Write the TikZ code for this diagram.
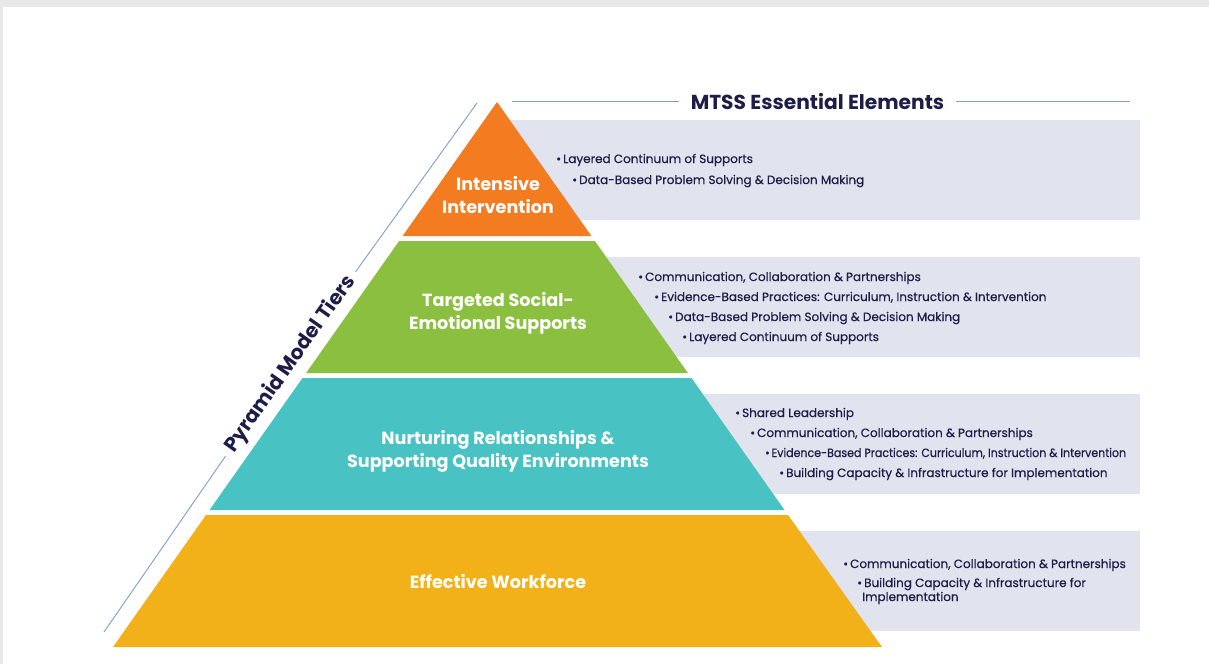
\documentclass[tikz,border=0pt]{standalone}
\usepackage{fontspec}
\setmainfont{Poppins}
\newfontfamily\bulletfont{Poppins}[FakeBold=0.5]
\definecolor{framegray}{HTML}{E8E8E8}
\definecolor{boxfill}{HTML}{E1E3EE}
\definecolor{navy}{HTML}{1E1D48}
\definecolor{lineblue}{HTML}{7F9ECB}
\definecolor{tOrange}{HTML}{F37B20}
\definecolor{tGreen}{HTML}{8BBF3F}
\definecolor{tTeal}{HTML}{48C2C2}
\definecolor{tYellow}{HTML}{F2B119}
\tikzset{
  tierlabel/.style={text=white, font=\bfseries\fontsize{17.6}{23}\selectfont, align=center},
  bulletitem/.style={text=navy, font=\bulletfont\fontsize{12}{14}\selectfont, anchor=base west, inner sep=0pt, align=left},
  guide/.style={draw=lineblue, line width=0.9pt},
  heading/.style={text=navy, font=\bfseries\fontsize{20.2}{24}\selectfont}
}
\begin{document}
\begin{tikzpicture}[x=1pt,y=-1pt]
\useasboundingbox (0,0) rectangle (1209,664);
\fill[framegray] (0,0) rectangle (1209,664);
\fill[white] (3,7) rectangle (1209,664);
% element boxes
\fill[boxfill] (505,120) rectangle (1140,220);
\fill[boxfill] (505,257) rectangle (1140,357);
\fill[boxfill] (505,394) rectangle (1140,494);
\fill[boxfill] (505,531) rectangle (1140,631);
% tiers
\fill[tOrange] (497,102) -- (591.4,236) -- (402.6,236) -- cycle;
\fill[tGreen] (399.1,241) -- (594.9,241) -- (687.9,373) -- (306.1,373) -- cycle;
\fill[tTeal] (302.5,378) -- (691.5,378) -- (784.5,510) -- (209.5,510) -- cycle;
\fill[tYellow] (206,515) -- (788,515) -- (882,647) -- (113,647) -- cycle;
% tier labels
\node[tierlabel] (t1) at (498,195.5) {Intensive\\Intervention};
\node[tierlabel] (t2) at (498,313.5) {Targeted Social-\\Emotional Supports};
\node[tierlabel] (t3) at (498,451.5) {Nurturing Relationships \&\\Supporting Quality Environments};
\node[tierlabel] (t4) at (498,582) {Effective Workforce};
% heading
\node[heading, inner xsep=12pt] (title) at (817.5,101) {MTSS Essential Elements};
\coordinate (hl) at (512,101);
\coordinate (hr) at (1130,101);
\draw[guide] (hl) -- (hl -| title.west);
\draw[guide] (hr) -- (hr -| title.east);
% diagonal
\node[heading, rotate=54.8, inner xsep=7pt] (tiers) at (290.5,364) {Pyramid Model Tiers};
\coordinate (dtop) at (477,103);
\coordinate (dbot) at (104,632);
\draw[guide] (dtop) -- (tiers.east);
\draw[guide] (tiers.west) -- (dbot);
% bullets
\node[bulletitem] (b11) at (556,163) {\textbullet\,Layered Continuum of Supports};
\node[bulletitem] (b12) at (572,184) {\textbullet\,Data-Based Problem Solving \& Decision Making};
\node[bulletitem] (b21) at (638,281) {\textbullet\,Communication, Collaboration \& Partnerships};
\node[bulletitem] (b22) at (654,301) {\textbullet\,Evidence-Based Practices: Curriculum, Instruction \& Intervention};
\node[bulletitem] (b23) at (668,321) {\textbullet\,Data-Based Problem Solving \& Decision Making};
\node[bulletitem] (b24) at (682,341) {\textbullet\,Layered Continuum of Supports};
\node[bulletitem] (b31) at (735,417) {\textbullet\,Shared Leadership};
\node[bulletitem] (b32) at (750,437) {\textbullet\,Communication, Collaboration \& Partnerships};
\node[bulletitem] (b33) at (765,457) {\scalebox{0.92}[1]{\textbullet\,Evidence-Based Practices: Curriculum, Instruction \& Intervention}};
\node[bulletitem] (b34) at (779,477) {\textbullet\,Building Capacity \& Infrastructure for Implementation};
\node[bulletitem] (b41) at (843,568) {\textbullet\,Communication, Collaboration \& Partnerships};
\node[bulletitem] (b42) at (857,601) {\textbullet\,Building Capacity \& Infrastructure for\\\hspace*{5pt}Implementation};
\end{tikzpicture}
\end{document}
